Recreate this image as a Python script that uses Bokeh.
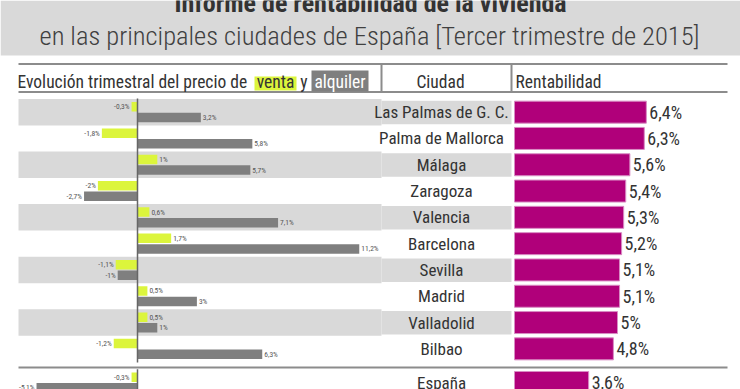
import numpy as np
from bokeh.plotting import figure
from bokeh.models import Range1d, ColumnDataSource
from bokeh.core.properties import value
from bokeh.embed import file_html
from bokeh.resources import INLINE

# ---------------- data ----------------
title = "Informe de rentabilidad de la vivienda"
subtitle = "en las principales ciudades de España [Tercer trimestre de 2015]"
col1_label = "Evolución trimestral del precio de"
venta_label = "venta"
y_label = "y"
alquiler_label = "alquiler"
col2_label = "Ciudad"
col3_label = "Rentabilidad"

cities = ["Las Palmas de G. C.", "Palma de Mallorca", "Málaga", "Zaragoza",
          "Valencia", "Barcelona", "Sevilla", "Madrid", "Valladolid",
          "Bilbao", "España"]
venta = [-0.3, -1.8, 1, -2, 0.6, 1.7, -1.1, 0.5, 0.5, -1.2, -0.3]
alquiler = [3.2, 5.8, 5.7, -2.7, 7.1, 11.2, -1, 3, 1, 6.3, -5.1]
rentabilidad = [6.4, 6.3, 5.6, 5.4, 5.3, 5.2, 5.1, 5.1, 5.0, 4.8, 3.6]

# ---------------- style / layout ----------------
FONT = "Roboto Condensed"
FONT_LIGHT = "Roboto Condensed Light"
DARK = "#333333"
GRAY_BG = "#d9d9d9"
YELLOW = "#dcf53c"
ALQ = "#7f7f7f"
MAGENTA = "#b0007a"
LINE = "#8c8c8c"

W, H = 740, 389
ROW0, PITCH = 111.65, 26.3
ZERO_CHG, SCALE_CHG = 137, 19.8
ZERO_R, SCALE_R = 514, 20.6
TOTAL_GAP = 0.28

def fmt(v):
    return f"{v:g}".replace(".", ",") + "%"

n = len(cities)
pos = np.arange(n, dtype=float)
pos[-1] += TOTAL_GAP

p = figure(width=W, height=H, x_range=Range1d(0, W), y_range=Range1d(H, 0),
           output_backend="svg", toolbar_location=None,
           x_axis_location=None, y_axis_location=None, min_border=0)
p.grid.visible = False
p.outline_line_color = None
p.background_fill_color = "white"
p.border_fill_color = "white"

p.extra_x_ranges = {
    "chg": Range1d(-ZERO_CHG / SCALE_CHG, (W - ZERO_CHG) / SCALE_CHG),
    "rent": Range1d(-ZERO_R / SCALE_R, (W - ZERO_R) / SCALE_R),
}
p.extra_y_ranges = {
    "rows": Range1d((H - ROW0) / PITCH, -ROW0 / PITCH),
}

# header band
p.quad(left=0, right=W, top=0, bottom=55, fill_color=GRAY_BG, line_color=None)
p.text(x=[370], y=[2.5], text=[title], text_font=value(FONT), text_font_style="bold",
       text_font_size="26px", text_color=DARK, text_align="center", text_baseline="middle")
p.text(x=[369], y=[35], text=[subtitle], text_font=value(FONT_LIGHT),
       text_font_size="26.5px", text_color="#404040", text_align="center", text_baseline="middle")

# alternating row backgrounds
alt = [i for i in range(n - 1) if i % 2 == 0]
p.hbar(y=pos[alt], height=26.5 / PITCH, left=18, right=381, y_range_name="rows",
       fill_color=GRAY_BG, line_color=None)
p.hbar(y=pos[alt] + 0.3 / PITCH, height=23.5 / PITCH, left=381, right=511, y_range_name="rows",
       fill_color=GRAY_BG, line_color=None)

# header lines
p.segment(x0=[18, 18, 18], y0=[63.5, 91.5, 367], x1=[727, 727, 727], y1=[63.5, 91.5, 367],
          line_color=LINE, line_width=2)
p.segment(x0=[381, 511], y0=[64, 64], x1=[381, 511], y1=[91, 91], line_color=LINE, line_width=2)

# header labels
p.quad(left=254, right=296, top=76, bottom=90, fill_color=YELLOW, line_color=None)
p.quad(left=311, right=368, top=70, bottom=91, fill_color=ALQ, line_color=None)
hdr = dict(text_font=value(FONT), text_font_size="17.5px", text_baseline="middle")
p.text(x=[17], y=[81], text=[col1_label], text_color=DARK, text_align="left", **hdr)
p.text(x=[275], y=[81], text=[venta_label], text_color=DARK, text_align="center", **hdr)
p.text(x=[303.5], y=[81], text=[y_label], text_color=DARK, text_align="center", **hdr)
p.text(x=[339.5], y=[81], text=[alquiler_label], text_color="white", text_align="center", **hdr)
p.text(x=[440], y=[81], text=[col2_label], text_color=DARK, text_align="center", **hdr)
p.text(x=[515], y=[81], text=[col3_label], text_color=DARK, text_align="left", **hdr)

# change bars
VOFF = 5.3 / PITCH
BH = 9.5 / PITCH
src = ColumnDataSource(dict(
    y=pos, venta=venta, alquiler=alquiler, rent=rentabilidad, city=cities,
    yv=pos - VOFF, ya=pos + VOFF,
    vlab=[fmt(v) for v in venta], alab=[fmt(v) for v in alquiler],
    rlab=[fmt(v) for v in rentabilidad],
    valign=["right" if v < 0 else "left" for v in venta],
    aalign=["right" if v < 0 else "left" for v in alquiler],
    voff=[-2 if v < 0 else 2 for v in venta],
    aoff=[-2 if v < 0 else 2 for v in alquiler],
))
p.hbar(y="yv", height=BH, left=0, right="venta", source=src, x_range_name="chg",
       y_range_name="rows", fill_color=YELLOW, line_color=None)
p.hbar(y="ya", height=BH, left=0, right="alquiler", source=src, x_range_name="chg",
       y_range_name="rows", fill_color=ALQ, line_color=None)
small = dict(text_font=value(FONT), text_font_size="7.5px", text_color="#555555",
             text_baseline="middle", source=src, x_range_name="chg", y_range_name="rows")
p.text(x="venta", y="yv", text="vlab", text_align="valign", x_offset="voff", **small)
p.text(x="alquiler", y="ya", text="alab", text_align="aalign", x_offset="aoff", **small)

# zero line
p.segment(x0=[0, 0], y0=[-0.52, pos[-1] - 0.5], x1=[0, 0], y1=[pos[-2] + 0.52, pos[-1] + 0.7],
          x_range_name="chg", y_range_name="rows", line_color="#666666", line_width=1.5)

# city names
p.text(x=441, y="y", text="city", source=src, y_range_name="rows", y_offset=0,
       text_font=value(FONT), text_font_size="17px", text_color=DARK,
       text_align="center", text_baseline="middle")

# rentabilidad bars
p.hbar(y="y", height=22 / PITCH, left=0, right="rent", source=src, x_range_name="rent",
       y_range_name="rows", fill_color=MAGENTA, line_color="#d98cc4", line_width=1)
p.text(x="rent", y="y", text="rlab", source=src, x_range_name="rent", y_range_name="rows",
       x_offset=3, y_offset=0, text_font=value(FONT), text_font_size="18px",
       text_color=DARK, text_align="left", text_baseline="middle")

open("out.html", "w").write(file_html(p, INLINE))
